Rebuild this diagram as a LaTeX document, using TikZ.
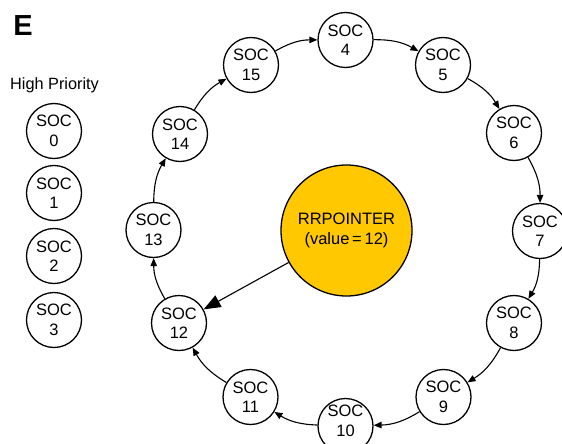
\documentclass[tikz,border=0pt]{standalone}
\usepackage{fontspec}
\setmainfont{Liberation Sans}
\usetikzlibrary{arrows.meta}
\begin{document}
\begin{tikzpicture}[x=1pt,y=-1pt,
  soc/.style={draw, circle, line width=1.3pt, minimum size=55pt, inner sep=0pt, align=center, font=\fontsize{16.5}{19.5}\selectfont, fill=white},
  ring/.style={line width=1.1pt, -{Triangle[length=8pt,width=6.5pt]}, bend left=15},
  ptr/.style={line width=1.1pt, -{Triangle[length=17pt,width=13pt]}}]
\useasboundingbox (0,0) rectangle (562,444);
\clip (0,0) rectangle (562,444);
\node[font=\fontsize{29}{30}\selectfont\bfseries] (E) at (23,25.5) {E};
\node[font=\fontsize{16.3}{19}\selectfont] (hp) at (54.5,85) {High Priority};
\node[soc] (s0) at (54,131) {SOC\\0};
\node[soc] (s1) at (54,193) {SOC\\1};
\node[soc] (s2) at (54,256) {SOC\\2};
\node[soc] (s3) at (54,320) {SOC\\3};
\node[draw, circle, line width=1.3pt, minimum size=131pt, inner sep=0pt, fill={rgb,255:red,255;green,200;blue,0}, align=center, font=\fontsize{16.5}{19.5}\selectfont] (rr) at (346.5,230.5) {RRPOINTER\\(value\,=\,12)};
\node[soc] (s4) at (345.5,40) {SOC\\4};
\node[soc] (s5) at (443,65) {SOC\\5};
\node[soc] (s6) at (514,133) {SOC\\6};
\node[soc] (s7) at (540,231) {SOC\\7};
\node[soc] (s8) at (514,323) {SOC\\8};
\node[soc] (s9) at (443.5,397) {SOC\\9};
\node[soc] (s10) at (345.5,426) {};
\node (s10t) at (345.5,421) [align=center, font=\fontsize{16.5}{19.5}\selectfont] {SOC\\10};
\node[soc] (s11) at (250.5,397) {SOC\\11};
\node[soc] (s12) at (179,323) {SOC\\12};
\node[soc] (s13) at (153.5,230) {SOC\\13};
\node[soc] (s14) at (180,134) {SOC\\14};
\node[soc] (s15) at (251,65) {SOC\\15};
\draw[ring] (s15) to (s4);
\draw[ring] (s4) to (s5);
\draw[ring] (s5) to (s6);
\draw[ring] (s6) to (s7);
\draw[ring] (s7) to (s8);
\draw[ring] (s8) to (s9);
\draw[ring] (s9) to (s10);
\draw[ring] (s10) to (s11);
\draw[ring] (s11) to (s12);
\draw[ring] (s12) to (s13);
\draw[ring] (s13) to (s14);
\draw[ring] (s14) to (s15);
\draw[ptr] (rr) -- (s12);
\end{tikzpicture}
\end{document}
